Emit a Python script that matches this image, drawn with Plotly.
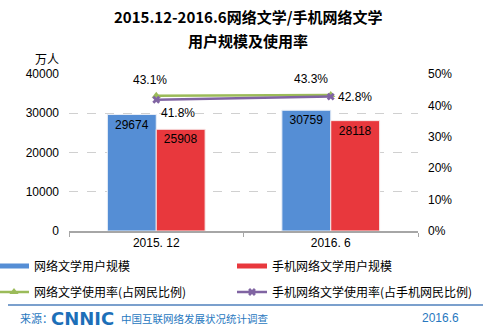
import plotly.graph_objects as go

# ---- data ----
categories = ["2015. 12", "2016. 6"]
lit_users = [29674, 30759]            # 网络文学用户规模 (万人)
mobile_lit_users = [25908, 28118]     # 手机网络文学用户规模 (万人)
lit_rate = [0.431, 0.433]             # 网络文学使用率
mobile_lit_rate = [0.418, 0.428]      # 手机网络文学使用率
left_ticks = [0, 10000, 20000, 30000, 40000]
right_ticks = [0, 0.1, 0.2, 0.3, 0.4, 0.5]

names = ["网络文学用户规模", "手机网络文学用户规模",
         "网络文学使用率(占网民比例)", "手机网络文学使用率(占手机网民比例)"]

BLUE = "#558ED5"
RED = "#E8383D"
GREEN = "#9BBB59"
PURPLE = "#8064A2"
FONT = "Liberation Sans, Noto Sans CJK SC, sans-serif"
CJK = "Noto Sans CJK SC, sans-serif"

W, H = 497, 335
L, R, T, B = 69, 418, 74, 231
PW, PH = R - L, B - T


def px(x):
    return (x - L) / PW


def py(y):
    return (B - y) / PH


fig = go.Figure()

fig.add_trace(go.Bar(
    x=categories, y=lit_users, name=names[0], showlegend=False,
    marker=dict(color=BLUE, line=dict(color="#E8EEF7", width=1)),
    texttemplate="%{y:d}", textposition="inside", insidetextanchor="end",
    textfont=dict(color="black", size=12, family=FONT), textangle=0,
))
fig.add_trace(go.Bar(
    x=categories, y=mobile_lit_users, name=names[1], showlegend=False,
    marker=dict(color=RED, line=dict(color="#F7E8E8", width=1)),
    texttemplate="%{y:d}", textposition="inside", insidetextanchor="end",
    textfont=dict(color="black", size=12, family=FONT), textangle=0,
))
fig.add_trace(go.Scatter(
    x=categories, y=lit_rate, yaxis="y2", mode="lines+markers", name=names[2],
    line=dict(color=GREEN, width=2.5),
    marker=dict(symbol="triangle-up", size=8, color=GREEN),
    legend="legend3",
))
fig.add_trace(go.Scatter(
    x=categories, y=mobile_lit_rate, yaxis="y2", mode="lines+markers", name=names[3],
    line=dict(color=PURPLE, width=2.5),
    marker=dict(symbol="x", size=7, color=PURPLE),
    legend="legend4",
))
# legend proxies for bars (thick line symbols)
fig.add_trace(go.Scatter(x=[None], y=[None], mode="lines", name=names[0],
                         line=dict(color=BLUE, width=5), legend="legend"))
fig.add_trace(go.Scatter(x=[None], y=[None], mode="lines", name=names[1],
                         line=dict(color=RED, width=5), legend="legend2"))

annotations = []
# rate labels
offs_green = [(-6, 16), (-20, 16)]
offs_purple = [(22, -13), (24, 0)]
for i, c in enumerate(categories):
    annotations.append(dict(x=c, y=lit_rate[i], xref="x", yref="y2",
                            text=f"{lit_rate[i]*100:.1f}%", showarrow=False,
                            xshift=offs_green[i][0], yshift=offs_green[i][1],
                            font=dict(size=12, color="black", family=FONT)))
    annotations.append(dict(x=c, y=mobile_lit_rate[i], xref="x", yref="y2",
                            text=f"{mobile_lit_rate[i]*100:.1f}%", showarrow=False,
                            xshift=offs_purple[i][0], yshift=offs_purple[i][1],
                            font=dict(size=12, color="black", family=FONT)))

# title
annotations.append(dict(x=px(248), y=py(16), xref="paper", yref="paper", xanchor="center",
                        yanchor="middle", showarrow=False,
                        text="<b>2015.12-2016.6网络文学/手机网络文学</b>",
                        font=dict(size=15, color="black", family=CJK)))
annotations.append(dict(x=px(248), y=py(40), xref="paper", yref="paper", xanchor="center",
                        yanchor="middle", showarrow=False,
                        text="<b>用户规模及使用率</b>",
                        font=dict(size=15, color="black", family=CJK)))
# unit label
annotations.append(dict(x=px(47), y=py(58), xref="paper", yref="paper", xanchor="center",
                        yanchor="middle", showarrow=False, text="万人",
                        font=dict(size=12, color="black", family=CJK)))

# footer
FOOT = "#2878C0"
annotations.append(dict(x=px(18), y=py(318), xref="paper", yref="paper", xanchor="left",
                        yanchor="middle", showarrow=False, text="来源：",
                        font=dict(size=11, color=FOOT, family=CJK)))
annotations.append(dict(x=px(49), y=py(318), xref="paper", yref="paper", xanchor="left",
                        yanchor="middle", showarrow=False, text="<b>CNNIC</b>",
                        font=dict(size=18, color="#1C6FB8", family="DejaVu Sans, sans-serif")))
annotations.append(dict(x=px(119), y=py(318), xref="paper", yref="paper", xanchor="left",
                        yanchor="middle", showarrow=False, text="中国互联网络发展状况统计调查",
                        font=dict(size=10.5, color=FOOT, family=CJK)))
annotations.append(dict(x=px(420), y=py(318), xref="paper", yref="paper", xanchor="left",
                        yanchor="middle", showarrow=False, text="2016.6",
                        font=dict(size=12, color=FOOT, family=FONT)))

shapes = [dict(type="line", xref="paper", yref="paper",
               x0=px(8), x1=px(483), y0=py(305), y1=py(305),
               line=dict(color="#4F81BD", width=1.5))]


def legend_at(xp, yp):
    return dict(orientation="h", x=px(xp), y=py(yp), xanchor="left", yanchor="middle",
                font=dict(size=12, family=CJK), bgcolor="rgba(0,0,0,0)", borderwidth=0)


fig.update_layout(
    width=W, height=H,
    margin=dict(l=L, r=W - R, t=T, b=H - B, pad=0, autoexpand=False),
    paper_bgcolor="white", plot_bgcolor="white",
    barmode="group", bargap=0.44, bargroupgap=0.0,
    font=dict(family=FONT, size=12, color="black"),
    xaxis=dict(type="category", showline=True, linecolor="#A6A6A6", linewidth=1.5,
               ticks="outside", tickson="boundaries", ticklen=4, tickcolor="#A6A6A6",
               showgrid=False, tickfont=dict(size=12, family=FONT)),
    yaxis=dict(range=[0, 40000], tickvals=left_ticks, tickformat="d", showgrid=True,
               gridcolor="#D0D0D0", griddash="dash", gridwidth=1, zeroline=False,
               showline=False, ticks="", ticklabelstandoff=9,
               tickfont=dict(size=12, family=FONT)),
    yaxis2=dict(range=[0, 0.5], tickvals=right_ticks, tickformat=".0%", overlaying="y",
                side="right", showgrid=False, zeroline=False, showline=False, ticks="",
                ticklabelstandoff=9, tickfont=dict(size=12, family=FONT)),
    legend=legend_at(-6, 266),
    legend2=legend_at(232, 266),
    legend3=legend_at(-6, 292),
    legend4=legend_at(232, 292),
    annotations=annotations, shapes=shapes,
)

fig.write_html("out.html")
